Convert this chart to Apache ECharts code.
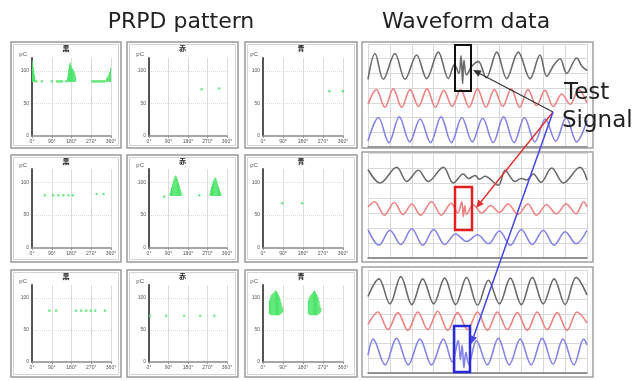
<!DOCTYPE html>
<html><head><meta charset="utf-8">
<script src="https://cdn.jsdelivr.net/npm/echarts@6/dist/echarts.min.js"></script>
<style>html,body{margin:0;padding:0;background:#fff}#c{width:643px;height:381px}</style>
</head><body><div id="c"></div>
<script>
// ---------- text ----------
const mainTitles = ['PRPD pattern', 'Waveform data'];
const phaseTitles = ['黒', '赤', '青'];
const phaseTicks = ['0°', '90°', '180°', '270°', '360°'];
const chargeTicks = [0, 50, 100];
const annotationText = ['Test', 'Signal'];

// ---------- PRPD data: clusters [phase, low pC, high pC], dots [phase, pC] ----------
const clusterR1C1 = [[1,83,116],[3,83,111],[5,83,106],[7,83,101],[9,83,97],[11,84,93],[13,84,88],
  [162,84,90],[165,83,96],[168,83,104],[171,83,110],[174,83,113],[177,83,109],[180,83,106],[184,83,104],[188,83,102],[192,83,99],[196,83,95],[199,84,90],
  [339,84,88],[342,83,90],[346,83,92],[350,83,95],[354,83,99],[358,83,105]];
const dotsR1C1 = [[20,84],[45,84],[90,84],[114,84],[122,84],[130,84],[137,84],[155,84],[275,84],[282,84],[289,84],[296,84],[303,84],[310,84],[317,84],[324,84],[331,84]];
const dotsR1C2 = [[243,72],[324,73]];
const dotsR1C3 = [[299,69],[359,69]];
const dotsR2C1 = [[59,80],[97,80],[120,80],[143,80],[166,80],[186,80],[295,82],[326,82]];
const clusterR2C2 = [[96,80,83],[100,79,87],[104,79,92],[108,79,97],[112,79,102],[116,79,106],[120,79,109],[124,79,110],[128,79,108],[132,79,104],[136,79,99],[140,79,95],[144,79,90],[148,79,86],[152,80,82],
  [281,80,83],[285,79,88],[289,79,93],[293,79,98],[297,79,102],[301,79,105],[305,79,107],[309,79,106],[313,79,102],[317,79,98],[321,79,93],[325,79,89],[329,79,85],[333,80,82]];
const dotsR2C2 = [[70,78],[232,80]];
const dotsR2C3 = [[86,68],[176,68]];
const dotsR3C1 = [[79,80],[110,80],[201,80],[224,80],[247,80],[268,80],[288,80],[333,80]];
const dotsR3C2 = [[5,72],[79,72],[162,72],[236,72],[301,72]];
const clusterR3C3 = [[29,75,96],[33,74,100],[37,73,104],[41,73,106],[45,73,107],[49,73,108],[53,73,110],[57,73,112],[61,73,110],[65,73,108],[69,73,105],[73,73,102],[77,74,98],[81,75,93],[85,76,88],[89,78,84],
  [204,75,96],[208,74,100],[212,73,103],[216,73,105],[220,73,106],[224,73,108],[228,73,110],[232,73,111],[236,73,109],[240,73,106],[244,73,104],[248,74,100],[252,75,95],[256,76,89],[260,78,84]];

// ---------- waveform data (x: 0..10 time divisions, y: 0..7 divisions) ----------
const grayR1 = [[0,4.6],[0.32,6.35],[0.7,4.6],[1.23,6.35],[1.69,4.6],[2.22,6.25],[2.68,4.65],[3.21,6.45],[3.67,4.65],[3.95,5.6],[4.15,5.0],[4.25,6.2],[4.32,4.3],[4.38,5.9],[4.5,4.9],[4.75,5.5],[5.04,5.8],[5.4,4.7],[5.88,6.45],[6.33,4.65],[6.86,6.45],[7.4,4.65],[7.85,6.25],[8.16,4.8],[8.5,5.6],[8.77,6.0],[9.07,5.0],[9.53,6.05],[9.76,5.5],[10,5.2]];
const redR1 = [2.9,3.9,2.7,3.95,2.7,3.9,2.75,3.95,2.7,3.85,2.75,3.9,2.7,3.95,2.7,3.9,2.75,3.95,2.7,3.9,2.8,3.85,2.75,3.6,2.9,3.9,3.0];
const blueR1 = [0.4,2.0,0.3,2.05,0.35,1.9,0.3,2.05,0.3,2.0,0.35,1.95,0.3,2.05,0.3,2.0,0.35,1.9,0.4,2.0,0.35,1.8];
const grayR2 = [[0,5.9],[0.55,5.0],[1.31,6.05],[1.77,5.1],[2.3,5.85],[2.75,5.1],[3.44,6.05],[3.9,5.0],[4.35,5.6],[4.6,5.3],[4.89,5.5],[5.1,5.25],[5.34,5.45],[5.95,4.85],[6.26,5.85],[6.71,5.1],[7.0,5.3],[7.25,5.2],[7.55,5.6],[7.9,5.05],[8.39,6.0],[8.92,5.0],[9.68,6.05],[10,5.2]];
const redR2 = [[0,3.4],[0.3,3.75],[0.75,2.85],[1.2,3.7],[1.6,2.9],[2.0,3.6],[2.4,2.85],[2.9,3.75],[3.35,2.85],[3.8,3.65],[4.1,3.0],[4.28,3.75],[4.35,2.75],[4.42,3.5],[4.5,2.9],[4.8,3.55],[5.2,3.0],[5.6,3.5],[6.0,3.05],[6.4,3.6],[6.85,2.9],[7.3,3.6],[7.7,2.85],[8.15,3.55],[8.6,2.95],[9.05,3.6],[9.5,2.95],[9.85,3.75],[10,3.4]];
const blueR2 = [1.9,0.85,1.85,0.9,1.95,0.85,1.9,0.9,1.6,1.1,1.55,0.95,1.8,0.85,1.9,0.9,1.85,0.85,1.75,0.95,1.85];
const grayR3 = [5.2,6.4,4.7,6.55,4.65,6.4,4.7,6.45,4.65,6.5,4.6,6.3,4.7,6.45,4.65,6.5,4.7,6.4,4.65,6.5,5.3];
const redR3 = [3.3,4.15,2.95,4.1,2.9,4.15,2.95,4.2,2.9,4.1,2.95,4.15,2.9,4.15,2.95,4.1,2.9,4.15,2.95,4.1,2.9,4.15,3.4];
const blueR3 = [[0,1.2],[0.24,2.3],[0.78,0.55],[1.3,2.35],[1.84,0.55],[2.37,2.3],[2.9,0.55],[3.44,2.3],[3.85,0.75],[4.12,2.2],[4.22,0.9],[4.3,1.9],[4.38,0.35],[4.47,1.4],[4.6,0.6],[4.95,2.2],[5.45,0.55],[5.95,2.35],[6.45,0.55],[6.95,2.3],[7.45,0.55],[7.95,2.35],[8.45,0.6],[8.9,2.3],[9.4,0.55],[9.85,2.3],[10,1.9]];

// ---------- layout ----------
const colLeft = [32, 149, 263], colWidth = [79, 78, 80];
const rowTop = [58, 169, 285], rowHeight = [78, 79, 77];
const frameX = [11, 127, 245], frameW = [110, 111, 112];
const frameY = [42, 155, 270], frameH = [106, 107, 107];
const waveFrameX = 362, waveFrameW = 231;
const waveFrameY = [42, 152, 267], waveFrameH = [106, 110, 110];
const waveLeft = 368, waveWidth = 219;
const waveTop = [44, 153, 270], waveHeight = [103, 105, 103];
const green = '#48e466';

function toPairs(a) { return Array.isArray(a[0]) ? a : a.map((v, i) => [i * 10 / (a.length - 1), v]); }

const clusters = [[clusterR1C1, null, null], [null, clusterR2C2, null], [null, null, clusterR3C3]];
const dots = [[dotsR1C1, dotsR1C2, dotsR1C3], [dotsR2C1, null, dotsR2C3], [dotsR3C1, dotsR3C2, null]];
const dotsExtra = [[null,null,null],[null,dotsR2C2,null],[null,null,null]];
const waves = [[grayR1, redR1, blueR1], [grayR2, redR2, blueR2], [grayR3, redR3, blueR3]];
const waveColors = ['#6a6a6a', '#ee8282', '#8383ea'];

const grid = [], xAxis = [], yAxis = [], series = [], graphic = [];
let gi = 0;
for (let r = 0; r < 3; r++) {
  for (let c = 0; c < 3; c++) {
    grid.push({left: colLeft[c], top: rowTop[r], width: colWidth[c], height: rowHeight[r]});
    xAxis.push({gridIndex: gi, type: 'value', min: 0, max: 360, interval: 90,
      axisLine: {show: true, onZero: false, lineStyle: {color: '#8a8a8a', width: 1.5}},
      axisTick: {show: true, length: 2, lineStyle: {color: '#999'}},
      axisLabel: {fontSize: 5, color: '#555', margin: 3, formatter: v => phaseTicks[Math.round(v / 90)] || ''},
      splitLine: {show: true, lineStyle: {color: ['transparent', '#dcdcdc', '#dcdcdc', '#dcdcdc', '#dcdcdc'], width: 1}}});
    yAxis.push({gridIndex: gi, type: 'value', min: 0, max: 120, interval: 50,
      name: 'pC', nameLocation: 'end', nameGap: 1,
      nameTextStyle: {fontSize: 6, color: '#555', align: 'right', padding: [0, 5, 0, 0]},
      axisLine: {show: true, lineStyle: {color: '#555', width: 2}},
      axisTick: {show: false},
      axisLabel: {fontSize: 5, color: '#555', margin: 3, formatter: v => chargeTicks.includes(v) ? String(v) : ''},
      splitLine: {show: true, lineStyle: {color: ['transparent', '#cfe3cf', '#cfe3cf', 'transparent'], type: 'dotted'}}});
    if (clusters[r][c]) {
      series.push({type: 'custom', xAxisIndex: gi, yAxisIndex: gi, data: clusters[r][c], clip: true, silent: true,
        encode: {x: 0, y: [1, 2]},
        renderItem: (params, api) => {
          const p = api.value(0), lo = api.value(1), hi = api.value(2);
          const a = api.coord([p - 2.4, hi]), b = api.coord([p + 2.4, lo]);
          return {type: 'rect', shape: {x: a[0], y: a[1], width: b[0] - a[0], height: b[1] - a[1]}, style: {fill: green}};
        }});
    }
    [dots[r][c], dotsExtra[r][c]].forEach(d => {
      if (d) series.push({type: 'scatter', xAxisIndex: gi, yAxisIndex: gi, data: d, symbolSize: 2.6, silent: true,
        itemStyle: {color: '#5ee676', opacity: 0.85}});
    });
    graphic.push({type: 'rect', shape: {x: frameX[c], y: frameY[r], width: frameW[c], height: frameH[r]},
      style: {fill: 'none', stroke: '#999', lineWidth: 1.5}, z: 50});
    graphic.push({type: 'rect', shape: {x: frameX[c] + 2.5, y: frameY[r] + 2.5, width: frameW[c] - 5, height: frameH[r] - 5},
      style: {fill: 'none', stroke: '#d4d4d4', lineWidth: 1}, z: 50});
    graphic.push({type: 'text', x: frameX[c] + frameW[c] / 2, y: frameY[r] + 6, z: 60,
      style: {text: phaseTitles[c], font: 'bold 7px "Noto Sans CJK JP"', fill: '#222', align: 'center', verticalAlign: 'middle'}});
    gi++;
  }
}
for (let r = 0; r < 3; r++) {
  grid.push({left: waveLeft, top: waveTop[r], width: waveWidth, height: waveHeight[r]});
  xAxis.push({gridIndex: gi, type: 'value', min: 0, max: 10, interval: 1,
    axisLine: {show: true, onZero: false, lineStyle: {color: '#777', width: 1.5}}, axisTick: {show: false}, axisLabel: {show: false},
    splitLine: {show: true, lineStyle: {color: '#d8d8d8'}}});
  yAxis.push({gridIndex: gi, type: 'value', min: 0, max: 7, interval: 1,
    axisLine: {show: false}, axisTick: {show: false}, axisLabel: {show: false},
    splitLine: {show: true, lineStyle: {color: '#d8d8d8'}}});
  for (let k = 0; k < 3; k++) {
    series.push({type: 'line', xAxisIndex: gi, yAxisIndex: gi, data: toPairs(waves[r][k]), smooth: 0.35, showSymbol: false, silent: true,
      lineStyle: {color: waveColors[k], width: 1.6}});
  }
  graphic.push({type: 'rect', shape: {x: waveFrameX, y: waveFrameY[r], width: waveFrameW, height: waveFrameH[r]},
    style: {fill: 'none', stroke: '#a0a0a0', lineWidth: 1.5}, z: 50});
  gi++;
}

// titles
graphic.push({type: 'text', x: 181, y: 22, z: 60, style: {text: mainTitles[0], font: '22px "DejaVu Sans"', fill: '#222', align: 'center', verticalAlign: 'middle'}});
graphic.push({type: 'text', x: 466, y: 22, z: 60, style: {text: mainTitles[1], font: '22px "DejaVu Sans"', fill: '#222', align: 'center', verticalAlign: 'middle'}});
graphic.push({type: 'text', x: 564, y: 93, z: 60, style: {text: annotationText[0], font: '23px "DejaVu Sans"', fill: '#222', align: 'left', verticalAlign: 'middle'}});
graphic.push({type: 'text', x: 562, y: 121, z: 60, style: {text: annotationText[1], font: '23px "DejaVu Sans"', fill: '#222', align: 'left', verticalAlign: 'middle'}});

// highlight boxes
const boxes = [[455, 45, 16, 46, '#111', 2], [455, 187, 17, 43, '#e32020', 2.5], [454, 326, 16, 46, '#2a2ad8', 2.5]];
boxes.forEach(b => graphic.push({type: 'rect', z: 100, shape: {x: b[0], y: b[1], width: b[2], height: b[3]}, style: {fill: 'none', stroke: b[4], lineWidth: b[5]}}));
// arrows
const origin = [553, 112];
const arrows = [[473, 70, '#333', 1.2], [476, 208, '#e03030', 1.4], [471, 344, '#4545e6', 1.5]];
arrows.forEach(a => {
  const dx = a[0] - origin[0], dy = a[1] - origin[1], L = Math.hypot(dx, dy), ux = dx / L, uy = dy / L;
  const bx = a[0] - ux * 8, by = a[1] - uy * 8;
  graphic.push({type: 'line', z: 100, shape: {x1: origin[0], y1: origin[1], x2: bx, y2: by}, style: {stroke: a[2], lineWidth: a[3]}});
  graphic.push({type: 'polygon', z: 100, shape: {points: [[a[0], a[1]], [bx - uy * 3.5, by + ux * 3.5], [bx + uy * 3.5, by - ux * 3.5]]}, style: {fill: a[2]}});
});

const chart = echarts.init(document.getElementById('c'));
chart.setOption({animation: false, backgroundColor: '#fff', grid, xAxis, yAxis, series, graphic});
</script></body></html>
